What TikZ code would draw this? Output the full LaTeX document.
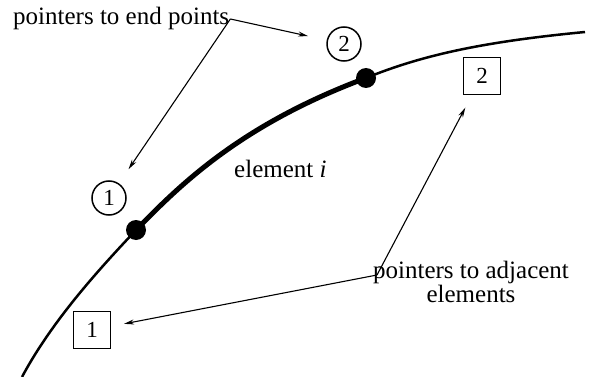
\documentclass[tikz,border=0pt]{standalone}
\usepackage{fontspec}
\setmainfont{Liberation Serif}
\usetikzlibrary{arrows.meta}

\begin{document}
\begin{tikzpicture}[
    x=1pt,y=-1pt,
    lbl/.style={font=\fontsize{25}{21}\selectfont,inner sep=1pt},
    endpt/.style={circle,draw,line width=1.5pt,minimum size=34pt,
                  inner sep=0pt,font=\fontsize{23}{23}\selectfont},
    adjbox/.style={rectangle,draw,line width=1.5pt,minimum size=37pt,
                   inner sep=0pt,font=\fontsize{23}{23}\selectfont},
    dot/.style={circle,fill,minimum size=20pt,inner sep=0pt},
    arr/.style={-{Stealth[length=10pt,width=5pt]},line width=1.1pt},
    thin/.style={line width=2.5pt},
    thickpart/.style={line width=5pt},
  ]
    \useasboundingbox (0,0) rectangle (591,377);
    \coordinate (curvestart) at (22,377);
    \coordinate (curveend) at (585,32);
    \coordinate (p1) at (136,230);
    \coordinate (p2) at (366,78);
    \draw[thin](curvestart) .. controls (55,315) and (110,258) .. (p1);
    \draw[thickpart](p1) .. controls (180,185) and (240,125) .. (p2);
    \draw[thin](p2) .. controls (420,56) and (480,42) .. (curveend);
    \node[dot](dot1) at (p1){};
    \node[dot](dot2) at (p2){};
    \node[endpt](end1) at (109,198){1};
    \node[endpt](end2) at (344,44){2};
    \node[adjbox](adj1) at (92,330){1};
    \node[adjbox](adj2) at (482,76){2};
    \node[lbl,anchor=base west](endlbl) at (12,25){pointers to end points};
    \node[lbl,anchor=base west](elem) at (233,177){element \textit{i}};
    \node[lbl,align=center,anchor=base](adjlbl) at (471,302)
      {pointers to adjacent\\elements};
    \coordinate (adjfork) at (377,275);
    \draw[arr,shorten >=19pt](endlbl.east)--(end2);
    \draw[arr,shorten >=17pt](endlbl.east)--(end1);
    \draw[arr,shorten >=13pt](adjfork)--(adj1);
    \draw[arr,shorten >=14pt](adjfork)--(adj2);
\end{tikzpicture}
\end{document}
